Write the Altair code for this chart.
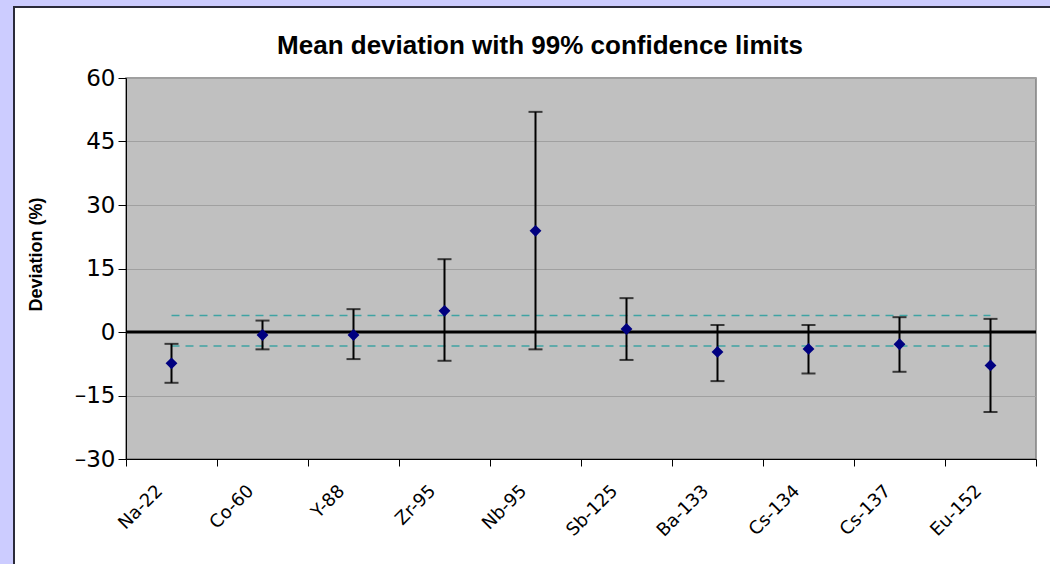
import altair as alt
import pandas as pd

# Nuclides and their mean deviation (%) with 99% confidence limits
isotopes = ["Na-22", "Co-60", "Y-88", "Zr-95", "Nb-95",
            "Sb-125", "Ba-133", "Cs-134", "Cs-137", "Eu-152"]
mean_dev = [-7.4, -0.7, -0.7, 5.0, 23.9, 0.7, -4.7, -4.0, -2.9, -7.9]
lower_lim = [-12.0, -4.1, -6.4, -6.8, -4.1, -6.6, -11.6, -9.8, -9.4, -18.9]
upper_lim = [-2.8, 2.7, 5.4, 17.2, 52.0, 8.0, 1.65, 1.65, 3.5, 3.1]

# Reference band drawn as dashed lines across the nuclides
band_upper = 3.9
band_lower = -3.3

y_ticks = [-30, -15, 0, 15, 30, 45, 60]

W, H = 910, 381
PAD = {"left": 126, "top": 78, "right": 14, "bottom": 105}

df = pd.DataFrame({"iso": isotopes, "mean": mean_dev,
                   "lo": lower_lim, "hi": upper_lim})
band = pd.DataFrame({
    "iso": isotopes * 2,
    "val": [band_upper] * len(isotopes) + [band_lower] * len(isotopes),
    "which": ["upper"] * len(isotopes) + ["lower"] * len(isotopes),
})
one = pd.DataFrame({"k": [0]})

x_enc = alt.X(
    "iso:N", sort=isotopes,
    scale=alt.Scale(paddingInner=0, paddingOuter=0),
    axis=alt.Axis(
        title=None, tickBand="extent", tickSize=7, tickColor="black",
        domainColor="black", labelAngle=315, labelAlign="right",
        labelBaseline="middle", labelFont="DejaVu Sans", labelFontSize=18,
        labelColor="black", labelPadding=22, labelOffset=-12, grid=False,
    ),
)
y_scale = alt.Scale(domain=[-30, 60], nice=False, zero=False)
y_axis = alt.Axis(
    title="Deviation (%)", values=y_ticks, tickSize=8, tickColor="black",
    domainColor="black", labelFont="DejaVu Sans", labelFontSize=23,
    labelColor="black", labelPadding=3,
    labelExpr="datum.value < 0 ? '\u2013' + abs(datum.value) : '' + datum.value",
    grid=True, gridColor="#A0A0A0", gridWidth=1,
    titleFont="Liberation Sans", titleFontSize=18, titleFontWeight="bold",
    titleColor="black", titleX=-90, titleY=176, titleAngle=270,
    titleAlign="center", titleBaseline="middle",
)

# Lavender surround and dark edge of the white chart panel
left_strip = alt.Chart(one).mark_rect(color="#CCCCFF").encode(
    x=alt.value(-PAD["left"]), x2=alt.value(-113),
    y=alt.value(-PAD["top"]), y2=alt.value(H + PAD["bottom"]))
top_strip = alt.Chart(one).mark_rect(color="#CCCCFF").encode(
    x=alt.value(-PAD["left"]), x2=alt.value(W + PAD["right"]),
    y=alt.value(-PAD["top"]), y2=alt.value(-72))
panel_edge = alt.Chart(one).mark_rect(
    fillOpacity=0, stroke="#2B2B3A", strokeWidth=2).encode(
    x=alt.value(-112), x2=alt.value(W + 60),
    y=alt.value(-71), y2=alt.value(H + 160))

zero_line = alt.Chart(one).mark_rule(color="black", strokeWidth=3).encode(
    y=alt.datum(0, scale=y_scale, axis=y_axis))

band_lines = alt.Chart(band).mark_line(
    color="#3FA3A3", strokeWidth=1.5, strokeDash=[8, 6]).encode(
    x=x_enc, y=alt.Y("val:Q", scale=y_scale), detail="which:N")

bars = alt.Chart(df).mark_rule(color="black", strokeWidth=2).encode(
    x=x_enc, y=alt.Y("lo:Q", scale=y_scale), y2="hi:Q")
cap_lo = alt.Chart(df).mark_tick(color="black", size=14, thickness=2).encode(
    x=x_enc, y=alt.Y("lo:Q", scale=y_scale))
cap_hi = alt.Chart(df).mark_tick(color="black", size=14, thickness=2).encode(
    x=x_enc, y=alt.Y("hi:Q", scale=y_scale))
points = alt.Chart(df).mark_point(
    shape="diamond", filled=True, color="#000080", size=140, opacity=1).encode(
    x=x_enc, y=alt.Y("mean:Q", scale=y_scale))

chart = alt.layer(
    left_strip, top_strip, panel_edge, zero_line, band_lines,
    bars, cap_lo, cap_hi, points,
).properties(
    width=W, height=H,
    autosize=alt.AutoSizeParams(type="none"),
    padding=PAD,
    background="white",
    title=alt.TitleParams(
        "Mean deviation with 99% confidence limits",
        font="Liberation Sans", fontSize=26, fontWeight="bold",
        color="black", anchor="middle", frame="group", dx=-41, dy=77,
        offset=18),
).configure_view(
    fill="#C0C0C0", stroke="#808080", strokeWidth=1.5,
)

chart.save("out.html", embed_options={"renderer": "svg", "actions": False})
